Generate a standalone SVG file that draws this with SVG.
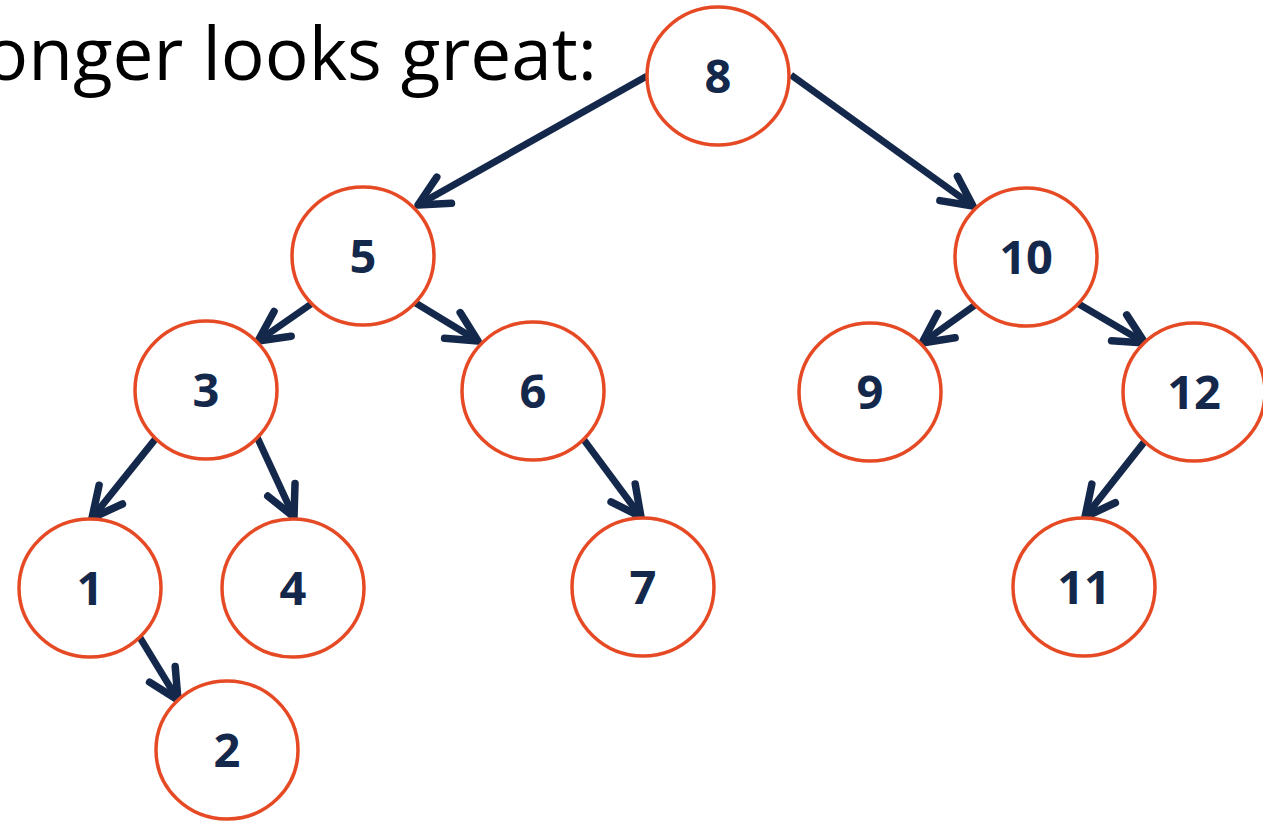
<svg xmlns="http://www.w3.org/2000/svg" width="1263" height="823" viewBox="0 0 1263 823">
<style>
.node ellipse{fill:#fff;stroke:#e64a25;stroke-width:3.5}
.node text{font-family:"Open Sans","Liberation Sans",sans-serif;font-weight:700;font-size:47px;fill:#14284b;text-anchor:middle}
.edge{stroke:#14284b;stroke-width:7;fill:none;marker-end:url(#arr)}
.title{font-family:"Open Sans","Liberation Sans",sans-serif;font-size:73px;fill:#000}
</style>
<defs>
<marker id="arr" markerUnits="userSpaceOnUse" orient="auto" refX="0" refY="0" markerWidth="10" markerHeight="10" overflow="visible">
<path d="M-30,-15 L0,0 L-30,15" fill="none" stroke="#14284b" stroke-width="7.5" stroke-linecap="round" stroke-linejoin="round"/>
</marker>
</defs>
<rect width="1263" height="823" fill="#fff"/>
<text class="title" x="597" y="80" text-anchor="end">onger looks great:</text>
<g id="connectors">
<line class="edge" x1="647" y1="76" x2="418" y2="205"/>
<line class="edge" x1="791" y1="75" x2="973" y2="206"/>
<line class="edge" x1="314" y1="302" x2="258" y2="341"/>
<line class="edge" x1="414" y1="302" x2="478" y2="341"/>
<line class="edge" x1="978" y1="303" x2="922" y2="343"/>
<line class="edge" x1="1077" y1="303" x2="1145" y2="343"/>
<line class="edge" x1="157" y1="437" x2="92" y2="518"/>
<line class="edge" x1="257" y1="437" x2="294" y2="517"/>
<line class="edge" x1="584" y1="440" x2="641" y2="517"/>
<line class="edge" x1="1145" y1="441" x2="1085" y2="517"/>
<line class="edge" x1="139" y1="636" x2="178" y2="700"/>
</g>
<g id="n8" class="node"><ellipse cx="718" cy="76" rx="71" ry="69"/><text x="718" y="93">8</text></g>
<g id="n5" class="node"><ellipse cx="363" cy="256" rx="71" ry="69"/><text x="363" y="273">5</text></g>
<g id="n10" class="node"><ellipse cx="1026" cy="257" rx="71" ry="69"/><text x="1026" y="274">10</text></g>
<g id="n3" class="node"><ellipse cx="206" cy="390" rx="71" ry="69"/><text x="206" y="407">3</text></g>
<g id="n6" class="node"><ellipse cx="533" cy="391" rx="71" ry="69"/><text x="533" y="408">6</text></g>
<g id="n9" class="node"><ellipse cx="870" cy="392" rx="71" ry="69"/><text x="870" y="409">9</text></g>
<g id="n12" class="node"><ellipse cx="1194" cy="392" rx="71" ry="69"/><text x="1194" y="409">12</text></g>
<g id="n1" class="node"><ellipse cx="90" cy="588" rx="71" ry="69"/><text x="90" y="605">1</text></g>
<g id="n4" class="node"><ellipse cx="293" cy="588" rx="71" ry="69"/><text x="293" y="605">4</text></g>
<g id="n7" class="node"><ellipse cx="643" cy="587" rx="71" ry="69"/><text x="643" y="604">7</text></g>
<g id="n11" class="node"><ellipse cx="1084" cy="587" rx="71" ry="69"/><text x="1084" y="604">11</text></g>
<g id="n2" class="node"><ellipse cx="227" cy="750" rx="71" ry="69"/><text x="227" y="767">2</text></g>
</svg>
